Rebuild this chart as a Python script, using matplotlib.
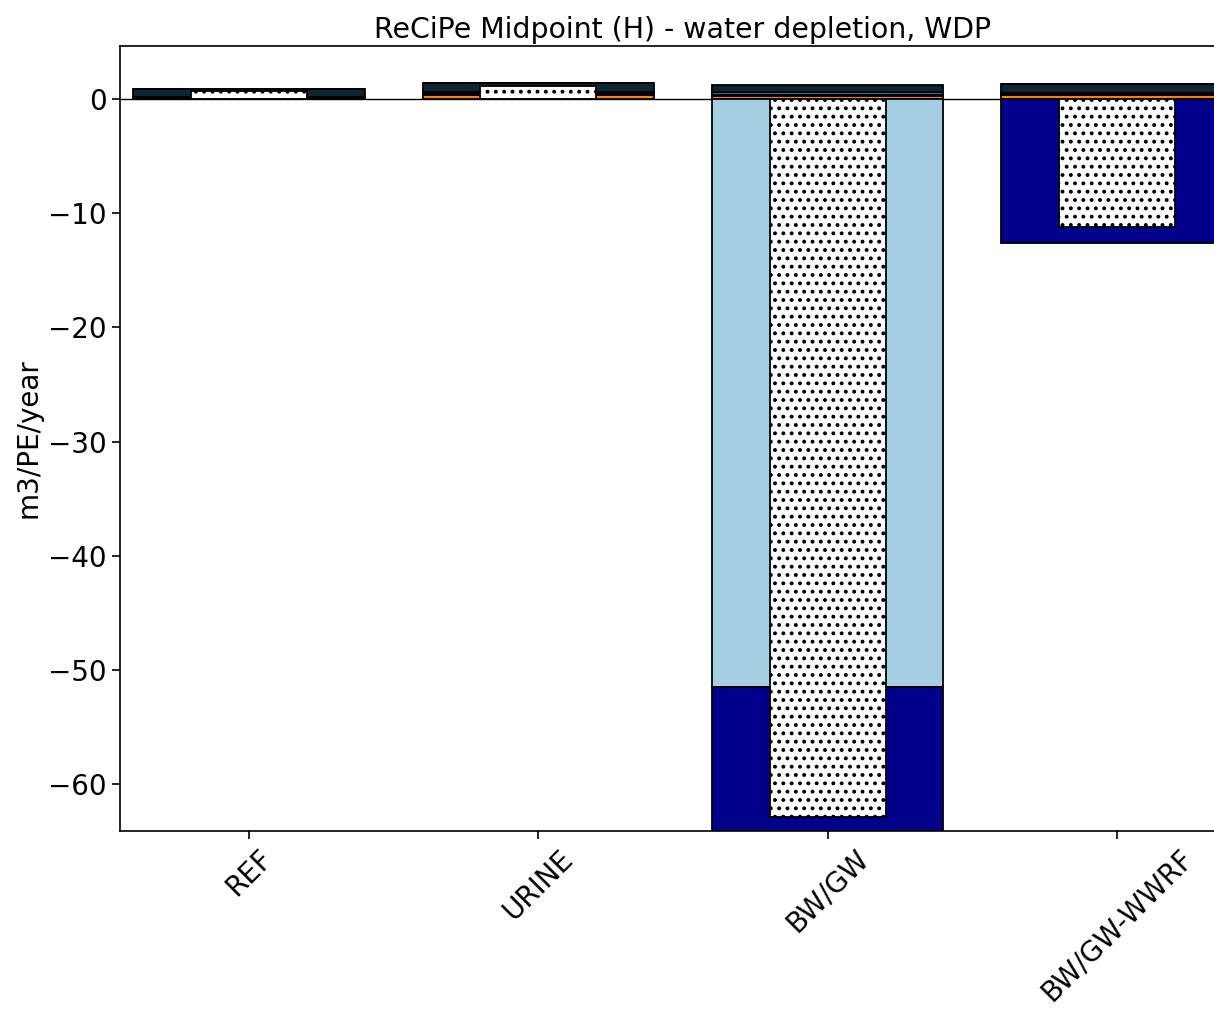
import numpy as np
import matplotlib
matplotlib.use("Agg")
import matplotlib.pyplot as plt

plt.rcParams['font.family'] = ['DejaVu Sans']
plt.rcParams['hatch.linewidth'] = 1.6

scenarios = ["REF", "URINE", "BW/GW", "BW/GW-WWRF"]

# stacked contributions (m3/PE/year)
comp_orange = [0.0, 0.35, 0.30, 0.35]
comp_gray = [0.15, 0.20, 0.10, 0.10]
comp_teal = [0.05, 0.05, 0.25, 0.05]
comp_navy = [0.70, 0.77, 0.58, 0.80]
comp_lightblue = [0.0, 0.0, -51.5, 0.0]
comp_darkblue = [0.0, 0.0, -12.6, -12.6]
net_total = [0.75, 1.15, -62.9, -11.2]

components = [
    (comp_orange, "#ff7f00"),
    (comp_gray, "#3c3c3c"),
    (comp_teal, "#2c6e7a"),
    (comp_navy, "#0e2536"),
    (comp_lightblue, "#a6cee3"),
    (comp_darkblue, "#00008b"),
]

fs = 20

fig = plt.figure(figsize=(12.14, 10.10), dpi=100)
ax = fig.add_axes([120 / 1214, (1010 - 831) / 1010, 1126 / 1214, (831 - 46) / 1010])

x = np.arange(len(scenarios))
pos_bottom = np.zeros(len(scenarios))
neg_bottom = np.zeros(len(scenarios))
for vals, col in components:
    v = np.array(vals, dtype=float)
    bottom = np.where(v >= 0, pos_bottom, neg_bottom)
    ax.bar(x, v, width=0.8, bottom=bottom, color=col, edgecolor="black",
           linewidth=1.3, zorder=2)
    pos_bottom = pos_bottom + np.where(v >= 0, v, 0)
    neg_bottom = neg_bottom + np.where(v < 0, v, 0)

ax.bar(x, net_total, width=0.4, color="white", edgecolor="black", hatch="..",
       linewidth=1.3, zorder=3)

ax.axhline(0, color="black", linewidth=1.0, zorder=1)

for s in ax.spines.values():
    s.set_linewidth(1.2)

ax.set_xlim(-0.446, 3.446)
ax.set_ylim(-64.1, 4.65)
ax.set_xticks(x)
ax.set_xticklabels(scenarios, rotation=45, fontsize=fs)
ax.tick_params(axis="y", labelsize=fs)
ax.tick_params(length=6, width=1.2)
ax.set_ylabel("m3/PE/year", fontsize=fs)
ax.set_title("ReCiPe Midpoint (H) - water depletion, WDP", fontsize=20.4)

fig.savefig("out.png", dpi=100)
